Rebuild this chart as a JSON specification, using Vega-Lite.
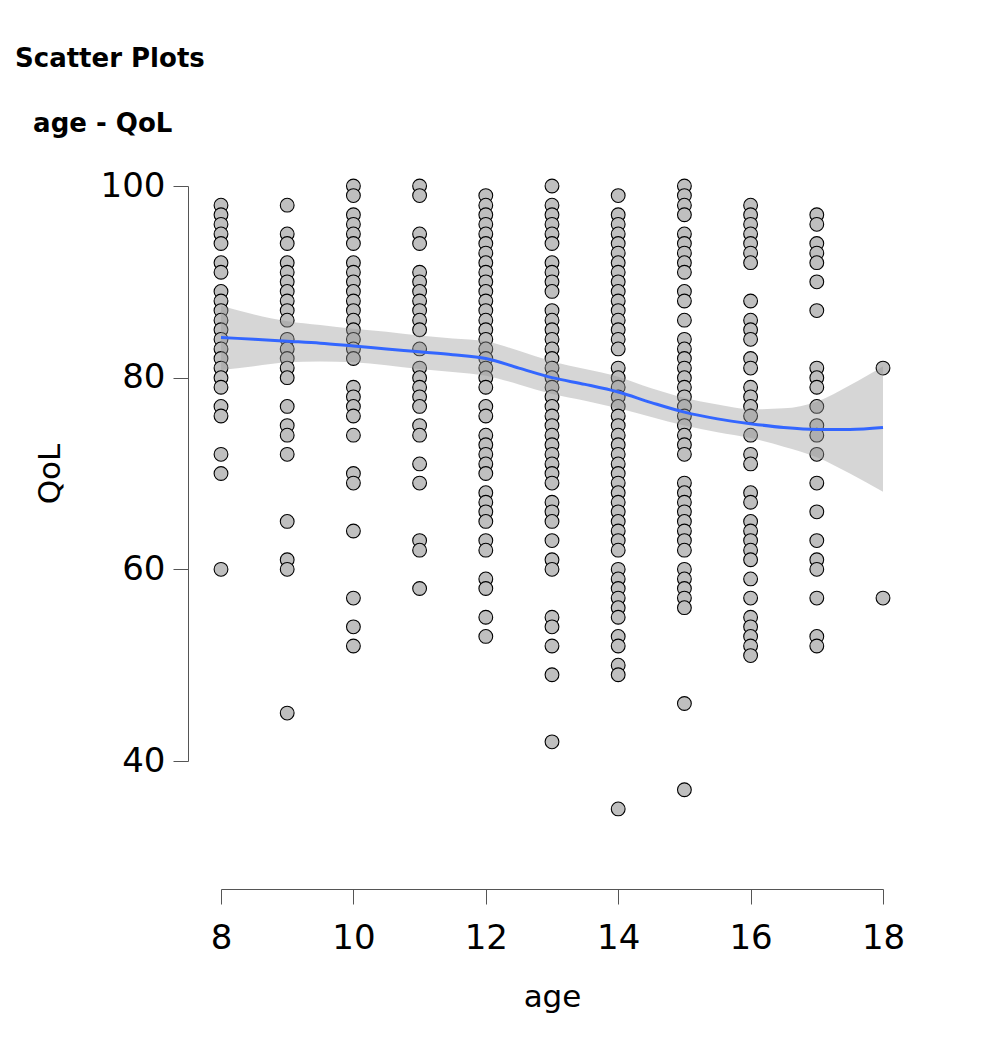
{
  "$schema": "https://vega.github.io/schema/vega-lite/v6.json",
  "width": 662,
  "height": 575,
  "autosize": {"type": "none"},
  "padding": {"left": 221, "top": 186, "right": 107, "bottom": 291},
  "background": "white",
  "title": {
    "text": "Scatter Plots",
    "subtitle": "\u200b\u00a0\u00a0age - QoL",
    "anchor": "start",
    "frame": "group",
    "dx": -206,
    "offset": 32,
    "font": "DejaVu Sans",
    "fontSize": 26,
    "fontWeight": "bold",
    "color": "black",
    "subtitleFont": "DejaVu Sans",
    "subtitleFontSize": 26,
    "subtitleFontWeight": "bold",
    "subtitleColor": "black",
    "subtitlePadding": 39
  },
  "config": {
    "view": {"stroke": null},
    "axis": {
      "domainColor": "#555555",
      "tickColor": "#555555",
      "tickSize": 15,
      "grid": false,
      "labelFlush": false,
      "labelFont": "DejaVu Sans",
      "labelFontSize": 34,
      "labelColor": "black",
      "titleFont": "DejaVu Sans",
      "titleFontSize": 31,
      "titleFontWeight": "normal",
      "titleColor": "black"
    }
  },
  "datasets": {
    "pts": [
      {"age":8,"QoL":98},{"age":8,"QoL":97},{"age":8,"QoL":96},{"age":8,"QoL":95},{"age":8,"QoL":94},{"age":8,"QoL":92},{"age":8,"QoL":91},{"age":8,"QoL":89},{"age":8,"QoL":88},{"age":8,"QoL":87},{"age":8,"QoL":86},{"age":8,"QoL":85},{"age":8,"QoL":84},{"age":8,"QoL":83},{"age":8,"QoL":82},{"age":8,"QoL":81},{"age":8,"QoL":80},{"age":8,"QoL":79},{"age":8,"QoL":77},{"age":8,"QoL":76},{"age":8,"QoL":72},{"age":8,"QoL":70},{"age":8,"QoL":60},
      {"age":9,"QoL":98},{"age":9,"QoL":95},{"age":9,"QoL":94},{"age":9,"QoL":92},{"age":9,"QoL":91},{"age":9,"QoL":90},{"age":9,"QoL":89},{"age":9,"QoL":88},{"age":9,"QoL":87},{"age":9,"QoL":86},{"age":9,"QoL":84},{"age":9,"QoL":83},{"age":9,"QoL":82},{"age":9,"QoL":81},{"age":9,"QoL":80},{"age":9,"QoL":77},{"age":9,"QoL":75},{"age":9,"QoL":74},{"age":9,"QoL":72},{"age":9,"QoL":65},{"age":9,"QoL":61},{"age":9,"QoL":60},{"age":9,"QoL":45},
      {"age":10,"QoL":100},{"age":10,"QoL":99},{"age":10,"QoL":97},{"age":10,"QoL":96},{"age":10,"QoL":95},{"age":10,"QoL":94},{"age":10,"QoL":92},{"age":10,"QoL":91},{"age":10,"QoL":90},{"age":10,"QoL":89},{"age":10,"QoL":88},{"age":10,"QoL":87},{"age":10,"QoL":86},{"age":10,"QoL":85},{"age":10,"QoL":84},{"age":10,"QoL":83},{"age":10,"QoL":82},{"age":10,"QoL":79},{"age":10,"QoL":78},{"age":10,"QoL":77},{"age":10,"QoL":76},{"age":10,"QoL":74},{"age":10,"QoL":70},{"age":10,"QoL":69},{"age":10,"QoL":64},{"age":10,"QoL":57},{"age":10,"QoL":54},{"age":10,"QoL":52},
      {"age":11,"QoL":100},{"age":11,"QoL":99},{"age":11,"QoL":95},{"age":11,"QoL":94},{"age":11,"QoL":91},{"age":11,"QoL":90},{"age":11,"QoL":89},{"age":11,"QoL":88},{"age":11,"QoL":87},{"age":11,"QoL":86},{"age":11,"QoL":85},{"age":11,"QoL":83},{"age":11,"QoL":81},{"age":11,"QoL":80},{"age":11,"QoL":79},{"age":11,"QoL":78},{"age":11,"QoL":77},{"age":11,"QoL":75},{"age":11,"QoL":74},{"age":11,"QoL":71},{"age":11,"QoL":69},{"age":11,"QoL":63},{"age":11,"QoL":62},{"age":11,"QoL":58},
      {"age":12,"QoL":99},{"age":12,"QoL":98},{"age":12,"QoL":97},{"age":12,"QoL":96},{"age":12,"QoL":95},{"age":12,"QoL":94},{"age":12,"QoL":93},{"age":12,"QoL":92},{"age":12,"QoL":91},{"age":12,"QoL":90},{"age":12,"QoL":89},{"age":12,"QoL":88},{"age":12,"QoL":87},{"age":12,"QoL":86},{"age":12,"QoL":85},{"age":12,"QoL":84},{"age":12,"QoL":83},{"age":12,"QoL":82},{"age":12,"QoL":81},{"age":12,"QoL":80},{"age":12,"QoL":79},{"age":12,"QoL":77},{"age":12,"QoL":76},{"age":12,"QoL":74},{"age":12,"QoL":73},{"age":12,"QoL":72},{"age":12,"QoL":71},{"age":12,"QoL":70},{"age":12,"QoL":68},{"age":12,"QoL":67},{"age":12,"QoL":66},{"age":12,"QoL":65},{"age":12,"QoL":63},{"age":12,"QoL":62},{"age":12,"QoL":59},{"age":12,"QoL":58},{"age":12,"QoL":55},{"age":12,"QoL":53},
      {"age":13,"QoL":100},{"age":13,"QoL":98},{"age":13,"QoL":97},{"age":13,"QoL":96},{"age":13,"QoL":95},{"age":13,"QoL":94},{"age":13,"QoL":92},{"age":13,"QoL":91},{"age":13,"QoL":90},{"age":13,"QoL":89},{"age":13,"QoL":87},{"age":13,"QoL":86},{"age":13,"QoL":85},{"age":13,"QoL":84},{"age":13,"QoL":83},{"age":13,"QoL":82},{"age":13,"QoL":81},{"age":13,"QoL":80},{"age":13,"QoL":79},{"age":13,"QoL":78},{"age":13,"QoL":77},{"age":13,"QoL":76},{"age":13,"QoL":75},{"age":13,"QoL":74},{"age":13,"QoL":73},{"age":13,"QoL":72},{"age":13,"QoL":71},{"age":13,"QoL":70},{"age":13,"QoL":69},{"age":13,"QoL":67},{"age":13,"QoL":66},{"age":13,"QoL":65},{"age":13,"QoL":63},{"age":13,"QoL":61},{"age":13,"QoL":60},{"age":13,"QoL":55},{"age":13,"QoL":54},{"age":13,"QoL":52},{"age":13,"QoL":49},{"age":13,"QoL":42},
      {"age":14,"QoL":99},{"age":14,"QoL":97},{"age":14,"QoL":96},{"age":14,"QoL":95},{"age":14,"QoL":94},{"age":14,"QoL":93},{"age":14,"QoL":92},{"age":14,"QoL":91},{"age":14,"QoL":90},{"age":14,"QoL":89},{"age":14,"QoL":88},{"age":14,"QoL":87},{"age":14,"QoL":86},{"age":14,"QoL":85},{"age":14,"QoL":84},{"age":14,"QoL":83},{"age":14,"QoL":81},{"age":14,"QoL":80},{"age":14,"QoL":79},{"age":14,"QoL":78},{"age":14,"QoL":77},{"age":14,"QoL":76},{"age":14,"QoL":75},{"age":14,"QoL":74},{"age":14,"QoL":73},{"age":14,"QoL":72},{"age":14,"QoL":71},{"age":14,"QoL":70},{"age":14,"QoL":69},{"age":14,"QoL":68},{"age":14,"QoL":67},{"age":14,"QoL":66},{"age":14,"QoL":65},{"age":14,"QoL":64},{"age":14,"QoL":63},{"age":14,"QoL":62},{"age":14,"QoL":60},{"age":14,"QoL":59},{"age":14,"QoL":58},{"age":14,"QoL":57},{"age":14,"QoL":56},{"age":14,"QoL":55},{"age":14,"QoL":53},{"age":14,"QoL":52},{"age":14,"QoL":50},{"age":14,"QoL":49},{"age":14,"QoL":35},
      {"age":15,"QoL":100},{"age":15,"QoL":99},{"age":15,"QoL":98},{"age":15,"QoL":97},{"age":15,"QoL":95},{"age":15,"QoL":94},{"age":15,"QoL":93},{"age":15,"QoL":92},{"age":15,"QoL":91},{"age":15,"QoL":89},{"age":15,"QoL":88},{"age":15,"QoL":86},{"age":15,"QoL":84},{"age":15,"QoL":83},{"age":15,"QoL":82},{"age":15,"QoL":81},{"age":15,"QoL":80},{"age":15,"QoL":79},{"age":15,"QoL":78},{"age":15,"QoL":77},{"age":15,"QoL":76},{"age":15,"QoL":75},{"age":15,"QoL":74},{"age":15,"QoL":73},{"age":15,"QoL":72},{"age":15,"QoL":69},{"age":15,"QoL":68},{"age":15,"QoL":67},{"age":15,"QoL":66},{"age":15,"QoL":65},{"age":15,"QoL":64},{"age":15,"QoL":63},{"age":15,"QoL":62},{"age":15,"QoL":60},{"age":15,"QoL":59},{"age":15,"QoL":58},{"age":15,"QoL":57},{"age":15,"QoL":56},{"age":15,"QoL":46},{"age":15,"QoL":37},
      {"age":16,"QoL":98},{"age":16,"QoL":97},{"age":16,"QoL":96},{"age":16,"QoL":95},{"age":16,"QoL":94},{"age":16,"QoL":93},{"age":16,"QoL":92},{"age":16,"QoL":88},{"age":16,"QoL":86},{"age":16,"QoL":85},{"age":16,"QoL":84},{"age":16,"QoL":82},{"age":16,"QoL":81},{"age":16,"QoL":79},{"age":16,"QoL":78},{"age":16,"QoL":77},{"age":16,"QoL":76},{"age":16,"QoL":74},{"age":16,"QoL":72},{"age":16,"QoL":71},{"age":16,"QoL":68},{"age":16,"QoL":67},{"age":16,"QoL":65},{"age":16,"QoL":64},{"age":16,"QoL":63},{"age":16,"QoL":62},{"age":16,"QoL":61},{"age":16,"QoL":59},{"age":16,"QoL":57},{"age":16,"QoL":55},{"age":16,"QoL":54},{"age":16,"QoL":53},{"age":16,"QoL":52},{"age":16,"QoL":51},
      {"age":17,"QoL":97},{"age":17,"QoL":96},{"age":17,"QoL":94},{"age":17,"QoL":93},{"age":17,"QoL":92},{"age":17,"QoL":90},{"age":17,"QoL":87},{"age":17,"QoL":81},{"age":17,"QoL":80},{"age":17,"QoL":79},{"age":17,"QoL":77},{"age":17,"QoL":75},{"age":17,"QoL":74},{"age":17,"QoL":72},{"age":17,"QoL":69},{"age":17,"QoL":66},{"age":17,"QoL":63},{"age":17,"QoL":61},{"age":17,"QoL":60},{"age":17,"QoL":57},{"age":17,"QoL":53},{"age":17,"QoL":52},
      {"age":18,"QoL":81},{"age":18,"QoL":57}
    ],
    "smooth": [
      {"age":8.0,"fit":84.2,"lo":80.8,"hi":87.5},
      {"age":8.5,"fit":84.0,"lo":81.2,"hi":86.6},
      {"age":9.0,"fit":83.8,"lo":81.6,"hi":85.9},
      {"age":9.5,"fit":83.6,"lo":81.7,"hi":85.5},
      {"age":10.0,"fit":83.3,"lo":81.6,"hi":85.1},
      {"age":10.5,"fit":83.0,"lo":81.3,"hi":84.8},
      {"age":11.0,"fit":82.7,"lo":80.9,"hi":84.4},
      {"age":11.5,"fit":82.4,"lo":80.6,"hi":84.1},
      {"age":12.0,"fit":82.0,"lo":80.2,"hi":83.8},
      {"age":12.5,"fit":81.0,"lo":79.3,"hi":82.8},
      {"age":13.0,"fit":80.0,"lo":78.3,"hi":81.7},
      {"age":13.5,"fit":79.3,"lo":77.6,"hi":80.9},
      {"age":14.0,"fit":78.5,"lo":76.8,"hi":80.1},
      {"age":14.5,"fit":77.4,"lo":75.9,"hi":78.9},
      {"age":15.0,"fit":76.4,"lo":75.0,"hi":77.9},
      {"age":15.5,"fit":75.7,"lo":74.3,"hi":77.2},
      {"age":16.0,"fit":75.2,"lo":73.7,"hi":76.7},
      {"age":16.5,"fit":74.8,"lo":72.8,"hi":76.8},
      {"age":17.0,"fit":74.6,"lo":71.7,"hi":77.5},
      {"age":17.5,"fit":74.6,"lo":70.0,"hi":79.2},
      {"age":18.0,"fit":74.8,"lo":68.1,"hi":81.2}
    ]
  },
  "layer": [
    {
      "data": {"name": "pts"},
      "mark": {"type": "point", "shape": "circle", "filled": true, "size": 190, "fill": "#bfbfbf", "stroke": "black", "strokeWidth": 1.1, "opacity": 1, "fillOpacity": 1},
      "encoding": {
        "x": {"field": "age", "type": "quantitative", "scale": {"domain": [8, 18], "nice": false, "zero": false},
              "axis": {"values": [8, 10, 12, 14, 16, 18], "offset": 128, "title": "age", "labelPadding": 17, "titlePadding": 27, "format": "d"}},
        "y": {"field": "QoL", "type": "quantitative", "scale": {"domain": [40, 100], "nice": false, "zero": false},
              "axis": {"values": [40, 60, 80, 100], "offset": 33, "title": "QoL", "labelPadding": 8, "titlePadding": 34, "format": "d"}}
      }
    },
    {
      "data": {"name": "smooth"},
      "mark": {"type": "area", "color": "#999999", "opacity": 0.4, "interpolate": "monotone"},
      "encoding": {
        "x": {"field": "age", "type": "quantitative"},
        "y": {"field": "lo", "type": "quantitative"},
        "y2": {"field": "hi"}
      }
    },
    {
      "data": {"name": "smooth"},
      "mark": {"type": "line", "color": "#3366FF", "strokeWidth": 3, "interpolate": "monotone"},
      "encoding": {
        "x": {"field": "age", "type": "quantitative"},
        "y": {"field": "fit", "type": "quantitative"}
      }
    }
  ]
}
